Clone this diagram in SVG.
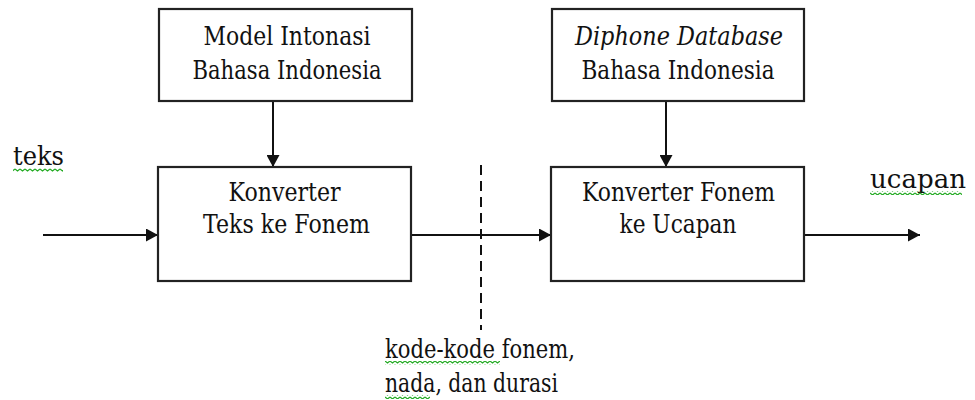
<svg xmlns="http://www.w3.org/2000/svg" width="975" height="400" viewBox="0 0 975 400">
<style>
.box{fill:#fff;stroke:#222;stroke-width:2.2}
.t{font-family:'DejaVu Serif','Liberation Serif',serif;font-size:25.5px;fill:#111;text-anchor:middle}
.lbl{font-family:'DejaVu Serif','Liberation Serif',serif;font-size:25.5px;fill:#111}
.conn{stroke:#111;stroke-width:2;fill:none}
.dash{stroke:#111;stroke-width:2;fill:none;stroke-dasharray:10 6}
</style>
<defs>
<marker id="ah" markerUnits="userSpaceOnUse" markerWidth="13" markerHeight="13" refX="12" refY="6.5" orient="auto">
<path d="M0,0 L12,6.5 L0,13 z" fill="#111"/>
</marker>
<pattern id="wave" width="5" height="4" patternUnits="userSpaceOnUse">
<path d="M0,1 L2.5,3 L5,1" stroke="#2a2" stroke-width="1.2" fill="none"/>
</pattern>
</defs>
<rect width="975" height="400" fill="#fff"/>
<g id="connectors">
<line class="conn" x1="43" y1="235" x2="158" y2="235" marker-end="url(#ah)"/>
<line class="conn" x1="411" y1="235" x2="551" y2="235" marker-end="url(#ah)"/>
<line class="conn" x1="804" y1="235" x2="920" y2="235" marker-end="url(#ah)"/>
<line class="conn" x1="273" y1="101" x2="273" y2="167" marker-end="url(#ah)"/>
<line class="conn" x1="666" y1="101" x2="666" y2="167" marker-end="url(#ah)"/>
<line class="dash" x1="481" y1="165" x2="481" y2="330"/>
</g>
<g id="model-intonasi">
<rect class="box" x="159" y="9" width="253" height="92"/>
<text class="t" x="287" y="45" textLength="167" lengthAdjust="spacingAndGlyphs">Model Intonasi</text>
<text class="t" x="287" y="79" textLength="189" lengthAdjust="spacingAndGlyphs">Bahasa Indonesia</text>
</g>
<g id="diphone-database">
<rect class="box" x="552" y="9" width="252" height="92"/>
<text class="t" x="679" y="45" font-style="italic" textLength="208" lengthAdjust="spacingAndGlyphs">Diphone Database</text>
<text class="t" x="678" y="79" textLength="193" lengthAdjust="spacingAndGlyphs">Bahasa Indonesia</text>
</g>
<g id="konverter-teks">
<rect class="box" x="158" y="167" width="253" height="114"/>
<text class="t" x="284.5" y="201" textLength="112" lengthAdjust="spacingAndGlyphs">Konverter</text>
<text class="t" x="286.5" y="233" textLength="167" lengthAdjust="spacingAndGlyphs">Teks ke Fonem</text>
</g>
<g id="konverter-fonem">
<rect class="box" x="551" y="167" width="253" height="114"/>
<text class="t" x="678.5" y="201" textLength="193" lengthAdjust="spacingAndGlyphs">Konverter Fonem</text>
<text class="t" x="678" y="233" textLength="117" lengthAdjust="spacingAndGlyphs">ke Ucapan</text>
</g>
<g id="labels">
<text class="lbl" x="13" y="165" textLength="51" lengthAdjust="spacingAndGlyphs">teks</text>
<rect x="13" y="168" width="50" height="4" fill="url(#wave)"/>
<text class="lbl" x="870" y="188" textLength="96" lengthAdjust="spacingAndGlyphs">ucapan</text>
<rect x="870" y="191" width="92" height="4" fill="url(#wave)"/>
<text class="lbl" x="385" y="358" textLength="190" lengthAdjust="spacingAndGlyphs">kode-kode fonem,</text>
<rect x="385" y="361" width="115" height="4" fill="url(#wave)"/>
<text class="lbl" x="385" y="392" textLength="173" lengthAdjust="spacingAndGlyphs">nada, dan durasi</text>
<rect x="385" y="395" width="45" height="4" fill="url(#wave)"/>
</g>
</svg>
